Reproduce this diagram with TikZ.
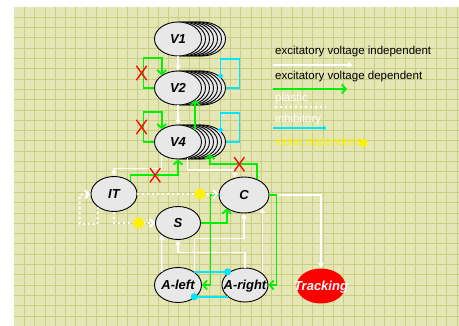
\documentclass[tikz,border=0pt]{standalone}
\usepackage{fontspec}
\setmainfont{Liberation Sans}
\usetikzlibrary{arrows.meta,shapes.geometric,shapes.misc,calc}
\definecolor{paper}{RGB}{228,230,182}
\definecolor{paperline}{RGB}{202,207,128}
\definecolor{cellgray}{RGB}{232,232,232}
\definecolor{excgreen}{RGB}{0,240,0}
\definecolor{inhcyan}{RGB}{0,230,255}
\tikzset{
  net cell/.style={
    ellipse,
    draw=black,
    line width=0.9pt,
    fill=cellgray,
    minimum width=47pt,
    minimum height=34pt,
    inner xsep=-10pt,
    inner ysep=0pt,
    text height=9.4pt,
    text depth=0pt,
    font=\fontsize{13}{15}\selectfont\bfseries\itshape,
  },
  net track/.style={net cell, draw=none, fill=red, text=white, minimum width=49pt, minimum height=35pt},
  net stack/.style={draw=black, line width=0.9pt, fill=cellgray},
  net ind/.style={-{Triangle[length=5pt,width=5pt]}, line width=1.3pt, white},
  net dep/.style={-{Straight Barb[length=4pt,width=9pt]}, line width=1.8pt, excgreen},
  net plastic/.style={-{Straight Barb[length=4pt,width=8pt]}, line width=2pt, white, dash pattern=on 2pt off 3pt},
  net inh/.style={-{Circle[length=5pt]}, shorten >=-2.5pt, line width=1.6pt, inhcyan},
  net value/.style={circle, fill=yellow, minimum size=11pt, inner sep=0pt},
  net cut/.style={cross out, draw=red, line width=1.3pt, minimum width=9pt, minimum height=13pt, inner sep=0pt},
  net legend/.style={anchor=west, inner sep=0pt, font=\fontsize{11.5}{13}\selectfont},
}

\begin{document}
\begin{tikzpicture}[x=1pt,y=-1pt]
  \useasboundingbox (0,0) rectangle (459,326);
  \fill[white] (0,0) rectangle (459,326);
  \fill[paper] (14,7) rectangle (459,326);
  \foreach \i in {1,...,43}
    \draw[paperline, line width=0.8pt] ({14+10.3*\i},7) -- ({14+10.3*\i},326);
  \foreach \j in {1,...,30}
    \draw[paperline, line width=0.8pt] (14,{7+10.3*\j}) -- (459,{7+10.3*\j});

  \foreach \y/\n in {39/V1,88/V2,142/V4} {
    \foreach \k in {24,20,...,4}
      \draw[net stack] (178+\k,\y) ellipse [x radius=23.5pt, y radius=17pt];
    \node[net cell] (\n) at (178,\y) {\n};
  }
  \node[net cell, minimum width=46pt, minimum height=35pt] (IT) at (114,194) {IT};
  \node[net cell, minimum width=45pt, minimum height=33pt] (S) at (178,223) {S};
  \node[net cell, minimum width=50pt, minimum height=36pt] (C) at (244,195) {C};
  \node[net cell, minimum height=35pt] (Aleft) at (178,285) {A-left};
  \node[net cell, minimum width=46pt] (Aright) at (245,285) {A-right};
  \node[net track] (Track) at (321,286) {Tracking};

  \node[net legend, text=black] (lgInd) at (275,52) {excitatory voltage independent};
  \node[net legend, text=black] (lgDep) at (275,77) {excitatory voltage dependent};
  \node[net legend, text=white] (lgPla) at (275,99) {plastic};
  \node[net legend, text=white] (lgInh) at (275,120) {inhibitory};
  \node[net legend, text=yellow] (lgVal) at (275,143) {value dependent};
  \node[net value, minimum size=8pt] (lgDot) at ([xshift=3pt]lgVal.east) {};
  \draw[net ind] ([xshift=-2pt,yshift=-13pt]lgInd.west) -- ++(80,0);
  \draw[net dep] ([xshift=-2pt,yshift=-12pt]lgDep.west) -- ++(74,0);
  \draw[net plastic,-] ([yshift=-8pt]lgPla.west) -- ++(51,0);
  \draw[net inh, -{Circle[length=4pt]}, shorten >=-2pt] ([xshift=-2pt,yshift=-8pt]lgInh.west) -- ++(51,0);

  \draw[net ind] (V1) -- (V2);
  \draw[net ind] (V2) -- (V4);
  \draw[net ind] (V4.-60) -- ++(0,12) -| (C.118);
  \draw[net ind] (V4.-142) -- ++(0,13.5) -| (IT.north);
  \draw[net ind] (C.east) -| (Track.north);
  \draw[net ind] (Aleft.141) -- (S.-144);
  \draw[net ind] (Aleft.39) -- ++(0,-33) -| (C.south);
  \draw[net ind] (Aright.north) -- ++(0,-15) -| (S.south);
  \draw[net ind] (Aright.34) -- (Aright.34 |- C.-35);

  \draw[net dep] (V2.west) -- ++(-10.5,0) -- ++(0,-30) node[pos=.5, net cut, xshift=-2pt] (cut2) {} -| (V2.142);
  \draw[net dep] (V4.west) -- ++(-10.5,0) -- ++(0,-30) node[pos=.5, net cut, xshift=-2pt] (cut4) {} -| (V4.142);
  \draw[net dep] (V4.35) -- (V2.-35);
  \draw[net dep] (C.50) -- ++(0,-15) -| node[pos=.19, net cut] (cutC) {} ($(V4)+(32,12)$);
  \draw[net dep] (IT.38) -- ++(0,-6) -| node[pos=.26, net cut] (cutIT) {} (V4.south);
  \draw[net dep] (S.east) -| (C.-142);
  \draw[net dep] (C.west) -- ++(-8,0) |- (Aleft.east);
  \draw[net dep] (C.east) -- ++(7,0) |- (Aright.east);

  \draw[net inh] ([xshift=24pt]V2.east) -- ++(13.5,0) -- ++(0,-29) -- ++(-19,0) -- ++(0,17);
  \draw[net inh] ([xshift=24pt]V4.east) -- ++(13.5,0) -- ++(0,-29) -- ++(-19,0) -- ++(0,17);
  \draw[net inh, -{Circle[length=7pt]}, shorten >=-3.5pt] (Aleft.39) -- (Aleft.39 -| Aright.146);
  \draw[net inh, -{Circle[length=7pt]}, shorten >=-3.5pt] (Aright.-146) -- (Aright.-146 -| Aleft.-39);

  \draw[net plastic] (IT.east) -- node[pos=.77, net value] (val1) {} (IT.east -| C.west);
  \draw[net plastic] (IT.south) |- node[pos=.8, net value] (val2) {} (S.west);
  \draw[net plastic] (IT.-142) -- ++(0,17) -| ++(-18,-29) -- (IT.west);
\end{tikzpicture}
\end{document}
